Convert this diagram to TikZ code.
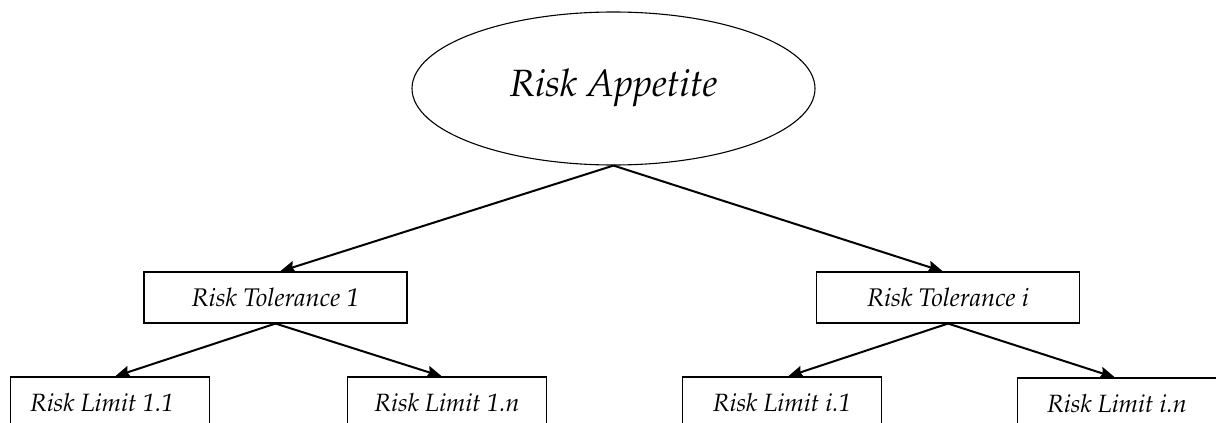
\documentclass[tikz,border=0pt]{standalone}
\usepackage[T1]{fontenc}
\usepackage{mathpazo}
\usetikzlibrary{shapes.geometric,arrows.meta}
\begin{document}
\begin{tikzpicture}[x=1pt,y=-1pt,
  topnode/.style={ellipse,draw,line width=1.1pt,inner sep=0pt,
    minimum width=403pt,minimum height=153pt,
    font=\fontsize{38}{45}\selectfont\itshape},
  tolbox/.style={rectangle,draw,line width=1.1pt,inner sep=0pt,
    minimum width=263pt,minimum height=51pt,
    font=\fontsize{25.5}{30}\selectfont\itshape},
  limbox/.style={rectangle,draw,line width=1.1pt,inner sep=0pt,
    minimum width=199pt,minimum height=51pt,
    font=\fontsize{25}{30}\selectfont\itshape},
  link/.style={line width=2pt,-{Stealth[length=15pt,width=12pt,inset=2pt]}}]
\useasboundingbox (0,0) rectangle (1216,423);

\node[topnode] (ra) at (613.5,88.5) {Risk Appetite};

\node[tolbox] (rt1) at (275.5,297.5) {Risk Tolerance 1};
\node[tolbox] (rti) at (948,297.5) {Risk Tolerance i};

\node[limbox] (rl11) at (110,402.5) {\hspace*{-8pt}Risk Limit 1.1\hspace*{8pt}};
\node[limbox] (rl1n) at (447,402.5) {Risk Limit 1.\textit{n}};
\node[limbox] (rli1) at (782,402.5) {Risk Limit i.1};
\node[limbox] (rlin) at (1117,403.5) {Risk Limit i.\textit{n}};

\draw[link] (ra.south) -- ([xshift=4.5pt]rt1.north);
\draw[link] (ra.south) -- ([xshift=-5pt]rti.north);

\draw[link] (rt1.south) -- ([xshift=5pt]rl11.north);
\draw[link] (rt1.south) -- ([xshift=-5pt]rl1n.north);
\draw[link] (rti.south) -- ([xshift=6pt]rli1.north);
\draw[link] (rti.south) -- ([xshift=-2pt]rlin.north);
\end{tikzpicture}
\end{document}
